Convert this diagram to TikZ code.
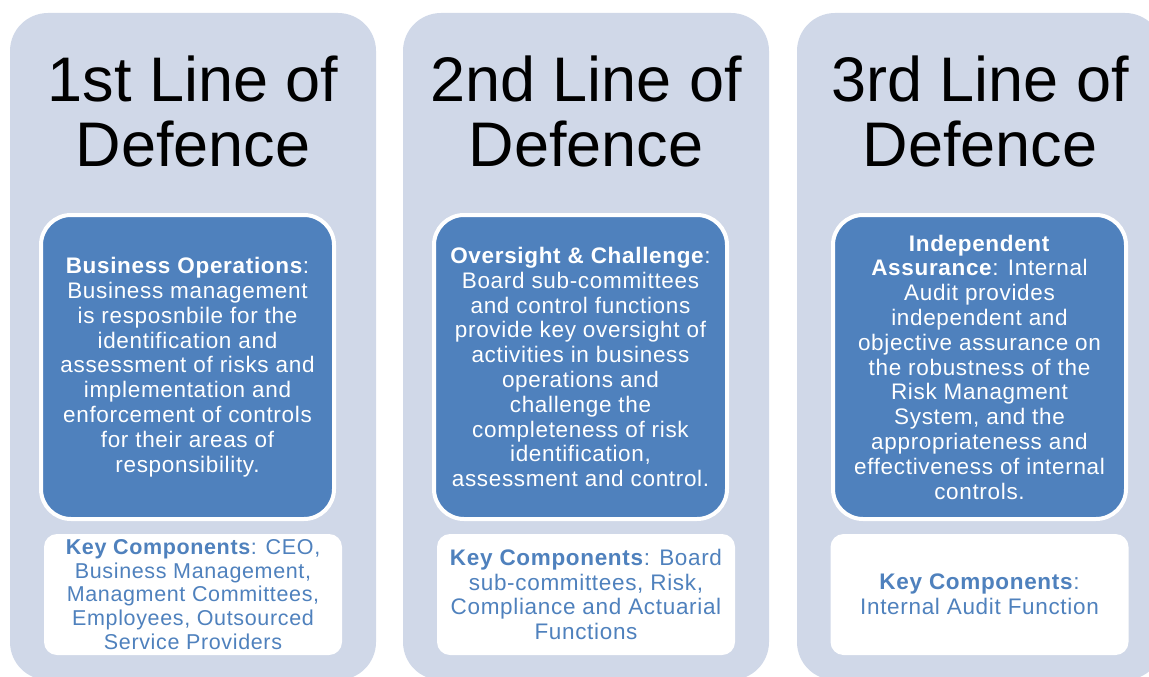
\documentclass[tikz,border=0pt]{standalone}
\usepackage{fontspec}
\setmainfont{Liberation Sans}
\newfontfamily\boxfont[LetterSpace=3]{Liberation Sans}
\usepackage{tikz}

\definecolor{lanebg}{HTML}{D0D8E8}
\definecolor{opsblue}{HTML}{4F81BD}

\begin{document}
\begin{tikzpicture}[
     x=1pt, y=-1pt,
     lane/.style={fill=lanebg, rounded corners=38pt, minimum width=366pt, minimum height=667pt, inner sep=0pt},
     head/.style={align=center, inner sep=0pt, font=\fontsize{63}{65}\selectfont},
     ops/.style={rectangle, rounded corners=30pt, fill=opsblue, draw=white, line width=4pt,
       minimum width=293pt, minimum height=304pt, inner sep=0pt, align=center, text=white,
       font=\boxfont\fontsize{22.5}{24.8}\selectfont},
     keys/.style={rectangle, rounded corners=13pt, fill=white, minimum width=298pt, minimum height=121pt,
       inner sep=0pt, align=center, text=opsblue, font=\boxfont\fontsize{22.5}{24.8}\selectfont}
   ]
   \useasboundingbox (0,0) rectangle (1149,677);
   \clip (0,0) rectangle (1149,677);
   % Lanes.
   \node[lane] (lane1) at (193,346.5) {};
   \node[lane] (lane2) at (586,346.5) {};
   \node[lane] (lane3) at (980,346.5) {};
   % Headings.
   \node[head] (head1) at (193,111.5) {1st Line of\\Defence};
   \node[head] (head2) at (586,111.5) {2nd Line of\\Defence};
   \node[head] (head3) at (980,111.5) {3rd Line of\\Defence};
   % What each line does.
   \node[ops] (ops1) at (187.5,367) {\textbf{Business Operations}:\\ Business management\\ is resposnbile for the\\
     identification and\\ assessment of risks and\\ implementation and\\ enforcement of controls\\
     for their areas of\\ responsibility.};
   \node[ops] (ops2) at (580.5,367) {\textbf{Oversight \& Challenge}:\\ Board sub-committees\\ and control functions\\
     provide key oversight of\\ activities in business\\ operations and\\ challenge the\\
     completeness of risk\\ identification,\\ assessment and control.};
   \node[ops] (ops3) at (979.5,367) {\textbf{Independent}\\ \textbf{Assurance}: Internal\\ Audit provides\\
     independent and\\ objective assurance on\\ the robustness of the\\ Risk Managment\\
     System, and the\\ appropriateness and\\ effectiveness of internal\\ controls.};
   % Key components.
   \node[keys, font=\boxfont\fontsize{21.5}{23.75}\selectfont] (keys1) at (193,594.5) {\textbf{Key Components}: CEO,\\
     Business Management,\\ Managment Committees,\\ Employees, Outsourced\\ Service Providers};
   \node[keys] (keys2) at (586,594.5) {\textbf{Key Components}: Board\\ sub-committees, Risk,\\
     Compliance and Actuarial\\ Functions};
   \node[keys] (keys3) at (979.5,594.5) {\textbf{Key Components}:\\ Internal Audit Function};
 \end{tikzpicture}
\end{document}
